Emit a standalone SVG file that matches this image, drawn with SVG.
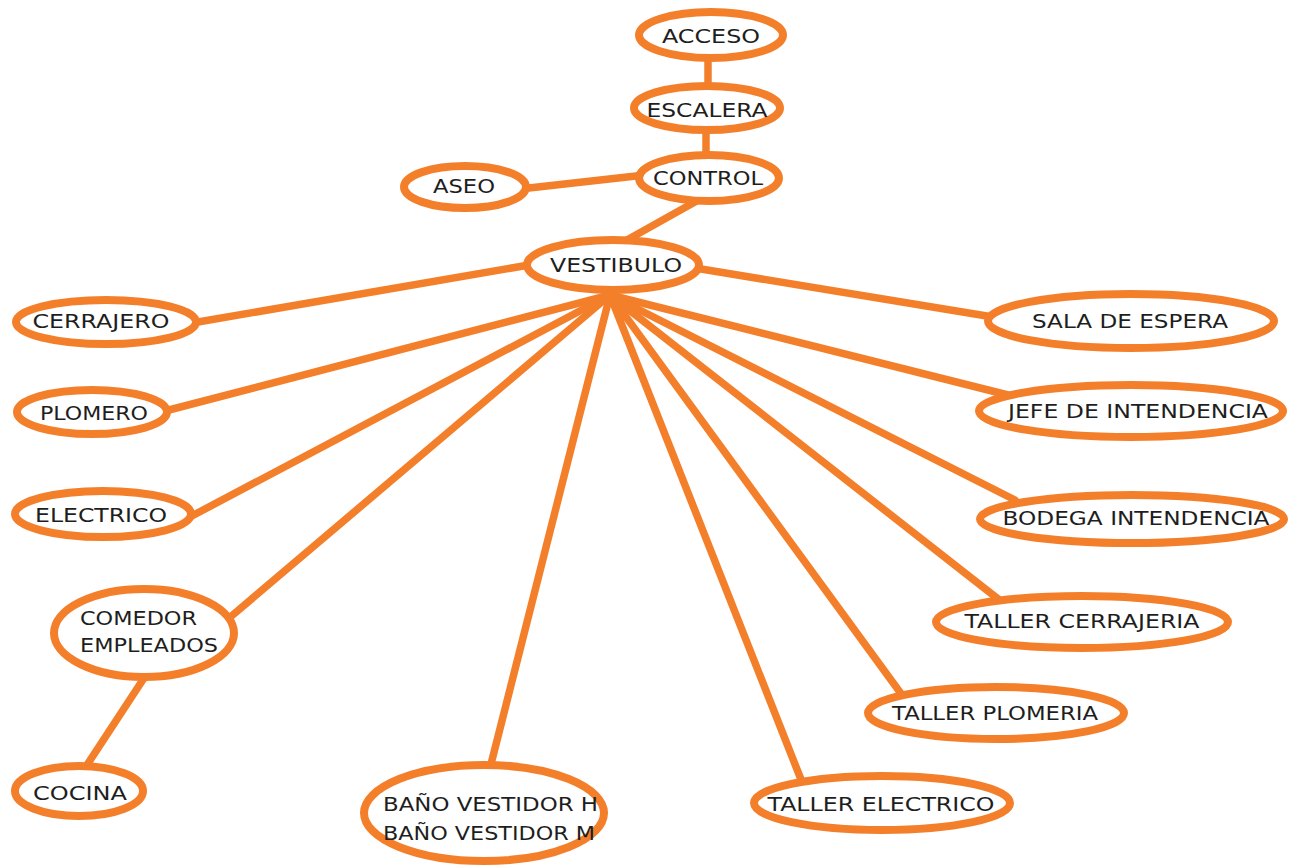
<svg xmlns="http://www.w3.org/2000/svg" width="1289" height="865" viewBox="0 0 1289 865">
<style>
.e{fill:#fff;stroke:#F47F2B;stroke-width:8}
.c line{stroke:#F47F2B;stroke-width:7.5;stroke-linecap:round}
text{font-family:"DejaVu Sans",Verdana,sans-serif;font-size:20px;fill:#1e1e1e}
.m{text-anchor:middle}
</style>
<rect width="1289" height="865" fill="#fff"/>
<g class="c" id="connectors">
<line x1="708" y1="50" x2="708" y2="90"/>
<line x1="706" y1="126" x2="706" y2="158"/>
<line x1="520" y1="189" x2="645" y2="175"/>
<line x1="702" y1="198" x2="618" y2="245"/>
<line x1="192" y1="323" x2="535" y2="264"/>
<line x1="695" y1="268" x2="993" y2="317"/>
<line x1="610" y1="295" x2="165" y2="411"/>
<line x1="610" y1="295" x2="188" y2="518"/>
<line x1="610" y1="295" x2="228" y2="619"/>
<line x1="148" y1="672" x2="85" y2="768"/>
<line x1="610" y1="295" x2="490" y2="768"/>
<line x1="610" y1="295" x2="802" y2="782"/>
<line x1="610" y1="295" x2="902" y2="695"/>
<line x1="610" y1="295" x2="1002" y2="602"/>
<line x1="610" y1="295" x2="1015" y2="500"/>
<line x1="610" y1="295" x2="1008" y2="395"/>
</g>
<g id="acceso"><ellipse class="e" cx="711" cy="35" rx="72" ry="23"/><text class="m" x="711" y="43" textLength="98" lengthAdjust="spacingAndGlyphs">ACCESO</text></g>
<g id="escalera"><ellipse class="e" cx="707" cy="108" rx="73" ry="22"/><text class="m" x="707" y="117" textLength="121" lengthAdjust="spacingAndGlyphs">ESCALERA</text></g>
<g id="control"><ellipse class="e" cx="709" cy="178" rx="70" ry="23"/><text class="m" x="708" y="185" textLength="110" lengthAdjust="spacingAndGlyphs">CONTROL</text></g>
<g id="aseo"><ellipse class="e" cx="465" cy="187" rx="61" ry="21"/><text class="m" x="464" y="193" textLength="62" lengthAdjust="spacingAndGlyphs">ASEO</text></g>
<g id="vestibulo"><ellipse class="e" cx="613" cy="265" rx="86" ry="25"/><text class="m" x="616" y="272" textLength="132" lengthAdjust="spacingAndGlyphs">VESTIBULO</text></g>
<g id="cerrajero"><ellipse class="e" cx="106" cy="322" rx="90" ry="22"/><text class="m" x="101" y="328" textLength="137" lengthAdjust="spacingAndGlyphs">CERRAJERO</text></g>
<g id="plomero"><ellipse class="e" cx="92" cy="412" rx="75" ry="22"/><text class="m" x="94" y="420" textLength="108" lengthAdjust="spacingAndGlyphs">PLOMERO</text></g>
<g id="electrico"><ellipse class="e" cx="103" cy="514" rx="88" ry="23"/><text class="m" x="101" y="522" textLength="132" lengthAdjust="spacingAndGlyphs">ELECTRICO</text></g>
<g id="comedor"><ellipse class="e" cx="144" cy="633" rx="90" ry="44"/><text x="80" y="625" textLength="117" lengthAdjust="spacingAndGlyphs">COMEDOR</text><text x="80" y="652" textLength="138" lengthAdjust="spacingAndGlyphs">EMPLEADOS</text></g>
<g id="cocina"><ellipse class="e" cx="79" cy="791" rx="64" ry="25"/><text class="m" x="80" y="800" textLength="94" lengthAdjust="spacingAndGlyphs">COCINA</text></g>
<g id="bano"><ellipse class="e" cx="484" cy="813" rx="120" ry="48"/><text x="383" y="811" textLength="215" lengthAdjust="spacingAndGlyphs">BAÑO VESTIDOR H</text><text x="383" y="840" textLength="212" lengthAdjust="spacingAndGlyphs">BAÑO VESTIDOR M</text></g>
<g id="taller-electrico"><ellipse class="e" cx="882" cy="803" rx="128" ry="27"/><text class="m" x="881" y="811" textLength="227" lengthAdjust="spacingAndGlyphs">TALLER ELECTRICO</text></g>
<g id="taller-plomeria"><ellipse class="e" cx="996" cy="713" rx="128" ry="26"/><text class="m" x="995" y="720" textLength="206" lengthAdjust="spacingAndGlyphs">TALLER PLOMERIA</text></g>
<g id="taller-cerrajeria"><ellipse class="e" cx="1082" cy="622" rx="146" ry="26"/><text class="m" x="1082" y="628" textLength="235" lengthAdjust="spacingAndGlyphs">TALLER CERRAJERIA</text></g>
<g id="bodega"><ellipse class="e" cx="1132" cy="519" rx="152" ry="24"/><text class="m" x="1136" y="525" textLength="267" lengthAdjust="spacingAndGlyphs">BODEGA INTENDENCIA</text></g>
<g id="jefe"><ellipse class="e" cx="1131" cy="411" rx="152" ry="26"/><text class="m" x="1138" y="418" textLength="260" lengthAdjust="spacingAndGlyphs">JEFE DE INTENDENCIA</text></g>
<g id="sala"><ellipse class="e" cx="1131" cy="321" rx="143" ry="27"/><text class="m" x="1130" y="328" textLength="196" lengthAdjust="spacingAndGlyphs">SALA DE ESPERA</text></g>
</svg>
